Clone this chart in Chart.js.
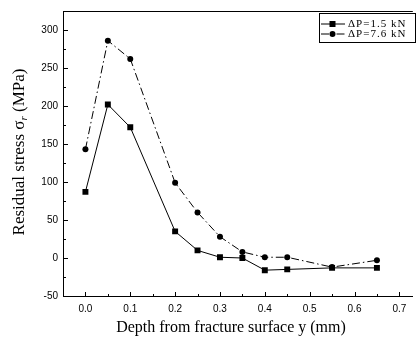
<!DOCTYPE html>
<html>
<head>
<meta charset="utf-8">
<script src="https://cdn.jsdelivr.net/npm/chart.js@4/dist/chart.umd.min.js"></script>
<style>
  html, body { margin: 0; padding: 0; background: #fff; }
  #wrap { width: 417px; height: 341px; }
</style>
</head>
<body>
<div id="wrap"><canvas id="stress-chart" width="417" height="341"></canvas></div>
<script>
// depth below the fracture surface (mm) and residual stress (MPa)
const depth = [0, 0.05, 0.1, 0.2, 0.25, 0.3, 0.35, 0.4, 0.45, 0.55, 0.65];
const stressLow = [87, 202, 172, 35, 10, 1, 0, -16, -15, -13, -13];    // dP = 1.5 kN
const stressHigh = [143, 286, 262, 99, 60, 28, 8, 1, 1, -12, -3];      // dP = 7.6 kN
const seriesNames = ["\u0394P=1.5 kN", "\u0394P=7.6 kN"];

const xTicks = [0, 0.1, 0.2, 0.3, 0.4, 0.5, 0.6, 0.7];
const yTicks = [-50, 0, 50, 100, 150, 200, 250, 300];

const xTitle = "Depth from fracture surface y (mm)";
const yTitle = ["Residual stress \u03c3", "r", " (MPa)"];

const serif = '"Liberation Serif", "DejaVu Serif", serif';
const sans = '"Liberation Sans", Arial, sans-serif';

function pairs(xs, ys) {
    return xs.map((v, i) => ({ x: v, y: ys[i] }));
}

// axes titles, inward ticks, top frame line and the boxed legend
const decorations = {
    id: 'decorations',
    afterDraw(chart) {
        const { ctx, chartArea: a, scales: { x, y } } = chart;
        ctx.save();
        ctx.strokeStyle = '#000';
        ctx.fillStyle = '#000';
        ctx.lineWidth = 1;

        ctx.beginPath();
        ctx.moveTo(a.left, a.top + 0.5);
        ctx.lineTo(a.right, a.top + 0.5);
        ctx.stroke();

        // y ticks: majors every 50, minors in between
        ctx.beginPath();
        yTicks.forEach(v => {
            const py = Math.round(y.getPixelForValue(v)) + 0.5;
            ctx.moveTo(a.left, py); ctx.lineTo(a.left + 5, py);
            if (v + 25 < y.max) {
                const pm = Math.round(y.getPixelForValue(v + 25)) + 0.5;
                ctx.moveTo(a.left, pm); ctx.lineTo(a.left + 3, pm);
            }
        });
        // x ticks: majors every 0.1, minors in between
        xTicks.forEach(v => {
            const px = Math.round(x.getPixelForValue(v)) + 0.5;
            ctx.moveTo(px, a.bottom); ctx.lineTo(px, a.bottom - 4);
            if (v + 0.05 < x.max) {
                const pm = Math.round(x.getPixelForValue(v + 0.05)) + 0.5;
                ctx.moveTo(pm, a.bottom); ctx.lineTo(pm, a.bottom - 2);
            }
        });
        ctx.stroke();

        // x title
        ctx.font = '16px ' + serif;
        ctx.textAlign = 'center';
        ctx.textBaseline = 'middle';
        ctx.fillText(xTitle, 231, 328);

        // y title with subscript r
        ctx.save();
        ctx.translate(20, 152);
        ctx.rotate(-Math.PI / 2);
        ctx.textAlign = 'left';
        const big = '17px ' + serif, small = 'italic 11px ' + serif;
        ctx.font = big; const w1 = ctx.measureText(yTitle[0]).width;
        ctx.font = small; const w2 = ctx.measureText(yTitle[1]).width;
        ctx.font = big; const w3 = ctx.measureText(yTitle[2]).width;
        let sx = -(w1 + w2 + w3) / 2;
        ctx.fillText(yTitle[0], sx, 0);
        ctx.font = small; ctx.fillText(yTitle[1], sx + w1, 4);
        ctx.font = big; ctx.fillText(yTitle[2], sx + w1 + w2, 0);
        ctx.restore();

        // legend box
        ctx.strokeRect(319.5, 13.5, 96, 29);
        ctx.font = '11px ' + serif;
        ctx.letterSpacing = '1px';
        ctx.textAlign = 'left';
        chart.data.datasets.forEach((ds, i) => {
            const ly = 24 + i * 10;
            ctx.beginPath();
            ctx.setLineDash(ds.borderDash || []);
            ctx.moveTo(321, ly); ctx.lineTo(345, ly);
            ctx.stroke();
            ctx.setLineDash([]);
            ctx.beginPath();
            if (ds.pointStyle === 'rect') {
                ctx.rect(329.5, ly - 3, 6, 6);
            } else {
                ctx.arc(332.5, ly, 3, 0, Math.PI * 2);
            }
            ctx.fill();
            ctx.fillText(ds.label, 348, ly + 0.5);
        });
        ctx.restore();
    }
};

new Chart(document.getElementById("stress-chart"), {
    type: 'line',
    data: {
        datasets: [
            {
                label: seriesNames[0],
                data: pairs(depth, stressLow),
                borderColor: '#000',
                backgroundColor: '#000',
                borderWidth: 1,
                pointStyle: 'rect',
                pointRadius: 4.2,
                pointBorderWidth: 0
            },
            {
                label: seriesNames[1],
                data: pairs(depth, stressHigh),
                borderColor: '#000',
                backgroundColor: '#000',
                borderWidth: 1,
                borderDash: [8, 3, 1.5, 3],
                pointStyle: 'circle',
                pointRadius: 3,
                pointBorderWidth: 0
            }
        ]
    },
    options: {
        responsive: false,
        animation: false,
        layout: { padding: { top: 6, right: 0, left: 0, bottom: 0 } },
        plugins: {
            legend: { display: false },
            tooltip: { enabled: false }
        },
        scales: {
            x: {
                type: 'linear',
                min: -0.05,
                max: 0.73,
                afterFit: (s) => { s.height = 45; },
                afterBuildTicks: (s) => { s.ticks = xTicks.map(v => ({ value: v })); },
                grid: { display: true, drawOnChartArea: false, drawTicks: false },
                border: { color: '#000', width: 1 },
                ticks: {
                    color: '#000',
                    padding: 7,
                    maxRotation: 0,
                    font: { family: sans, size: 10 },
                    callback: (v) => v.toFixed(1)
                }
            },
            y: {
                min: -50,
                max: 325,
                afterFit: (s) => { s.width = 63; },
                afterBuildTicks: (s) => { s.ticks = yTicks.map(v => ({ value: v })); },
                grid: { display: true, drawOnChartArea: false, drawTicks: false },
                border: { color: '#000', width: 1 },
                ticks: {
                    color: '#000',
                    padding: 5,
                    font: { family: sans, size: 10 },
                    callback: (v) => String(v)
                }
            }
        }
    },
    plugins: [decorations]
});
</script>
</body>
</html>
